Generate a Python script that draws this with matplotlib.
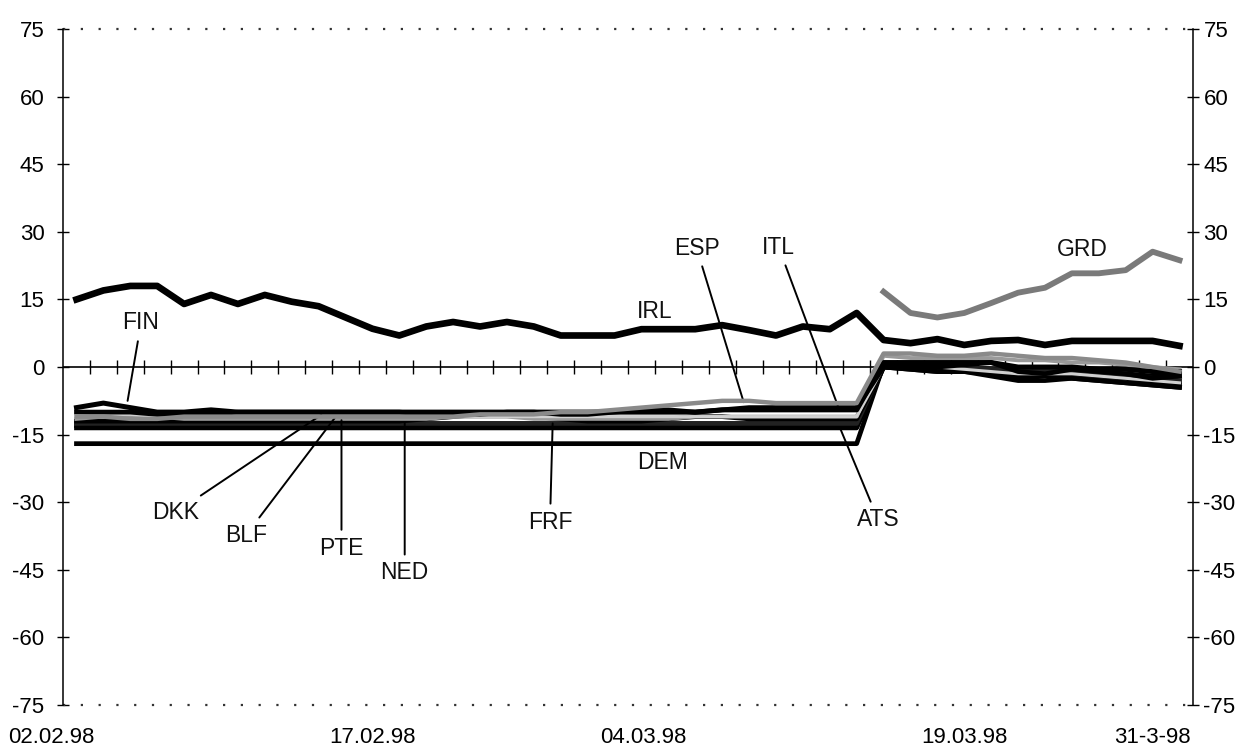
import numpy as np
import matplotlib.pyplot as plt
from matplotlib import transforms

plt.rcParams['font.family'] = ['Liberation Sans', 'DejaVu Sans']

# business days 02.02.98 .. 31.03.98 (42 points)
n_days = 42
tick_idx = [0, 11, 22, 33, 41]
tick_labels = ['02.02.98', '17.02.98', '04.03.98', '19.03.98', '31-3-98']

irl = [15, 17, 18, 18, 14, 16, 14, 16, 14.5, 13.5, 11, 8.5, 7, 9, 10, 9, 10, 9, 7, 7,
       7, 8.4, 8.4, 8.4, 9.3, 8.2, 7, 9, 8.4, 12,
       6, 5.3, 6.2, 4.9, 5.8, 6, 4.9, 5.8, 5.8, 5.8, 5.8, 4.7]
grd = [np.nan] * 30 + [16.7, 12, 11, 12, 14.2, 16.5, 17.6, 20.8, 20.8, 21.5, 25.6, 23.7]

fin = [-9, -8, -9, -10, -10, -9.5, -10, -10, -10, -10, -10, -10, -10, -10, -10,
       -10, -10, -10, -10, -10, -10, -10, -10, -10, -9.5, -9.5, -9.5, -9.5, -9.5, -9.5,
       1, 1, 1, 1, 1, 0, 0, 0, -0.5, -0.5, -1, -1]
esp = [-11, -11, -11.5, -11.5, -11, -11, -11, -11, -11, -11, -11, -11, -11, -11, -11,
       -10.5, -10.5, -10.5, -10, -10, -9.5, -9, -8.5, -8, -7.5, -7.5, -8, -8, -8, -8,
       3, 3, 2.5, 2.5, 3, 2.5, 2, 2, 1.5, 1, 0, -1]
itl = [-10, -10, -10, -10.5, -10.5, -10.5, -10, -10, -10, -10, -10, -10, -10, -10.5, -10.5,
       -10.5, -10, -10, -10.5, -10.5, -10, -9.5, -9.5, -10, -9.5, -9, -9, -9, -9, -9,
       0, 0, 0, 0.5, 1, -1, -1.5, -0.5, -1, -1.5, -2.5, -2]
pte = [-11.5, -11, -11, -11, -11.5, -11.5, -11.5, -11.5, -11.5, -11.5, -11.5, -11.5, -11.5, -11.5, -11,
       -11, -11, -11.5, -11.5, -11.5, -11.5, -11.5, -11.5, -11, -11, -11, -11, -11, -11, -11,
       2.5, 2, 2, 2, 2, 1.5, 1.5, 1, 1, 0.5, 0, -0.5]
blf = [-11, -10.5, -10.5, -11, -11, -11, -11, -11, -11, -11, -11, -11, -11, -11, -11,
       -11, -11, -11, -11, -11, -11, -11, -11, -11, -11, -11, -11, -11, -11, -11,
       0, 0, 0, -0.5, -1, -1.5, -1.5, -1.5, -2, -2.5, -3, -3.5]
ned = [-12.5, -12.5, -12.5, -12.5, -12.5, -12.5, -12.5, -12.5, -12.5, -12.5, -12.5, -12.5, -12.5, -12.5, -12.5,
       -12.5, -12.5, -12.5, -12.5, -12.5, -12.5, -12.5, -12.5, -12.5, -12.5, -12.5, -12.5, -12.5, -12.5, -12.5,
       0.5, 0, 0, 0, -0.5, -1, -1, -1, -1.5, -2, -2.5, -3]
frf = [-12, -12, -12, -12, -12, -12, -12, -12, -12, -12, -12, -12, -12, -11.5, -11,
       -10.5, -10.5, -11, -11.5, -12, -12, -12, -11.5, -11, -11, -11.5, -11.5, -11.5, -11.5, -11.5,
       0, -0.5, -1, -1, -1.5, -2.5, -2, -2.5, -3, -3.5, -4, -4.5]
dkk = [-13, -13, -13, -13, -13, -13, -13, -13, -13, -13, -13, -13, -13, -13, -13,
       -13, -13, -13, -13, -13, -13, -13, -13, -13, -13, -13, -13, -13, -13, -13,
       0, -0.5, -1, -1, -2, -3, -3, -2.5, -3, -3.5, -4, -4.5]
ats = [-13.5, -13.5, -13.5, -13.5, -13.5, -13.5, -13.5, -13.5, -13.5, -13.5, -13.5, -13.5, -13.5, -13.5, -13.5,
       -13.5, -13.5, -13.5, -13.5, -13.5, -13.5, -13.5, -13.5, -13.5, -13.5, -13.5, -13.5, -13.5, -13.5, -13.5,
       0, 0, -0.5, -0.5, -1, -2, -1.5, -1.5, -2, -2.5, -3.5, -3.5]
dem = [-17] * 30 + [0.5, 0.5, 0, 0, -0.5, -1, -1, -1, -1.5, -1.5, -2, -2]

x = np.arange(n_days)

fig = plt.figure(figsize=(12.53, 7.49), dpi=100)
ax = fig.add_axes([0.0503, 0.0587, 0.9018, 0.9025])

# zero line with small ticks between days
ax.axhline(0, color='black', lw=1.2, zorder=1)
ax.vlines(x[:-1] + 0.5, -1.6, 1.6, color='black', lw=1.0, zorder=1)

ax.plot(x, dem, color='black', lw=3.4, zorder=3)
ax.plot(x, ats, color='black', lw=3.4, zorder=3)
ax.plot(x, dkk, color='black', lw=3.4, zorder=3)
ax.plot(x, ned, color='#222222', lw=3.4, zorder=3)
ax.plot(x, frf, color='black', lw=3.4, zorder=3)
ax.plot(x, pte, color='#9a9a9a', lw=2.8, zorder=3)
ax.plot(x, blf, color='#d0d0d0', lw=2.2, zorder=3)
ax.plot(x, itl, color='black', lw=3.4, zorder=3)
ax.plot(x, fin, color='black', lw=3.6, zorder=3)
ax.plot(x, esp, color='#8a8a8a', lw=3.2, zorder=4)
ax.plot(x, irl, color='black', lw=4.8, zorder=4)
ax.plot(x, grd, color='#7a7a7a', lw=4.2, zorder=4)

lab = dict(fontsize=16.5, color='#111111')
ax.text(21.5, 12.4, 'IRL', ha='center', va='center', **lab)
ax.text(21.8, -21.2, 'DEM', ha='center', va='center', **lab)
ax.text(37.4, 26.0, 'GRD', ha='center', va='center', **lab)

leader = dict(arrowstyle='-', color='black', lw=1.4, shrinkA=3, shrinkB=0)
notes = [
    ('FIN', (2.4, 9.8), (1.9, -7.5)),
    ('DKK', (3.7, -32.2), (9.1, -10.6)),
    ('BLF', (6.3, -37.3), (9.6, -11.3)),
    ('PTE', (9.85, -40.2), (9.85, -11.8)),
    ('NED', (12.2, -45.7), (12.2, -12.2)),
    ('FRF', (17.6, -34.4), (17.7, -12.5)),
    ('ESP', (23.05, 26.4), (24.8, -7.8)),
    ('ITL', (26.1, 26.6), (28.3, -8.6)),
    ('ATS', (29.8, -33.9), (28.4, -13.8)),
]
for name, txt, end in notes:
    ax.annotate(name, xy=end, xytext=txt, ha='center', va='center',
                arrowprops=leader, **lab)

ax.set_xlim(-0.5, n_days - 0.5)
ax.set_ylim(-75, 75)

# dotted lines at top and bottom
ax.axhline(75, color='#333333', lw=1.6, ls=(0, (1, 7)), zorder=2, clip_on=False)
ax.axhline(-75, color='#333333', lw=1.6, ls=(0, (1, 7)), zorder=2, clip_on=False)

for s in ['top', 'bottom']:
    ax.spines[s].set_visible(False)
for s in ['left', 'right']:
    ax.spines[s].set_linewidth(1.1)

yt = np.arange(-75, 76, 15)
ax.set_yticks(yt)
ax.set_yticklabels([str(v) for v in yt])
ax.tick_params(axis='y', which='both', direction='inout', length=9, width=1,
               labelsize=16, left=True, right=True, labelleft=True, labelright=True, pad=3)
shift_left = transforms.ScaledTranslation(-8 / 100, 0, fig.dpi_scale_trans)
for t in ax.yaxis.get_major_ticks():
    t.label1.set_transform(t.label1.get_transform() + shift_left)

ax.set_xticks(tick_idx)
ax.set_xticklabels(tick_labels)
ax.tick_params(axis='x', length=0, labelsize=16, pad=16)
offsets = [-25, 0, -25, 0, -27]
for lbl, dx in zip(ax.get_xticklabels(), offsets):
    lbl.set_transform(lbl.get_transform() + transforms.ScaledTranslation(dx / 100, 0, fig.dpi_scale_trans))

fig.savefig('out.png', dpi=100)
